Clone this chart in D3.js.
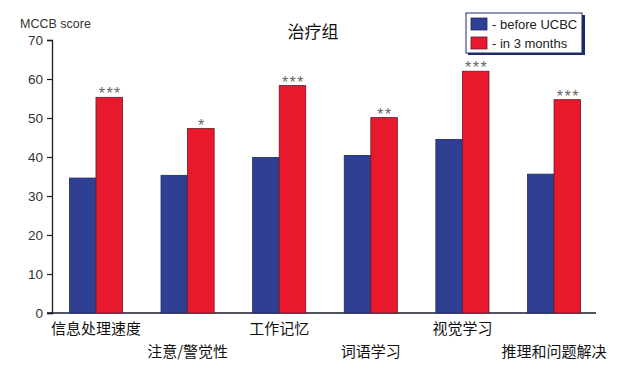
<!DOCTYPE html>
<html>
<head>
<meta charset="utf-8">
<script src="https://cdn.jsdelivr.net/npm/d3@7"></script>
<style>
  body { margin: 0; background: #fff; }
  svg { display: block; font-family: "Liberation Sans", Arial, sans-serif; }
</style>
</head>
<body>
<svg width="619" height="373"></svg>
<script>
var svg = d3.select("svg"),
    width = +svg.attr("width"),
    height = +svg.attr("height");

var categories = ["信息处理速度", "注意/警觉性", "工作记忆", "词语学习", "视觉学习", "推理和问题解决"];
var before = [34.6, 35.3, 39.9, 40.4, 44.5, 35.6];
var after3m = [55.3, 47.3, 58.3, 50.1, 62.0, 54.7];
var stars = ["***", "*", "***", "**", "***", "***"];
var seriesNames = ["- before UCBC", "- in 3 months"];
var yTicks = [0, 10, 20, 30, 40, 50, 60, 70];

var colors = ["#2f3f92", "#e8192c"];
var strokes = ["#1d2a6a", "#6a1a2c"];

var x = d3.scaleBand()
    .domain(categories)
    .range([52, 598])
    .paddingInner(0.42)
    .paddingOuter(0.19);

var xs = d3.scaleBand()
    .domain([0, 1])
    .range([0, x.bandwidth()]);

var y = d3.scaleLinear()
    .domain([0, 70])
    .range([313, 40]);

// axes
var yAxis = svg.append("g")
    .attr("transform", "translate(52,0)")
    .call(d3.axisLeft(y).tickValues(yTicks).tickSize(5).tickPadding(4));
yAxis.select(".domain").attr("stroke", "#1a1a2a").attr("stroke-width", 1.3);
yAxis.selectAll(".tick line").attr("stroke", "#1a1a2a").attr("stroke-width", 1.2);
yAxis.selectAll(".tick text").attr("fill", "#333").style("font-size", "13.5px")
    .style("font-family", "'Liberation Sans', Arial, sans-serif");

svg.append("line")
    .attr("x1", 47).attr("x2", 596)
    .attr("y1", y(0)).attr("y2", y(0))
    .attr("stroke", "#1a1a2a").attr("stroke-width", 1.3);

// bars
var groups = svg.append("g").selectAll("g")
    .data(categories)
    .enter().append("g")
    .attr("transform", d => "translate(" + x(d) + ",0)");

groups.each(function(c, i) {
    var g = d3.select(this);
    [before[i], after3m[i]].forEach((v, k) => {
        g.append("rect")
            .attr("x", xs(k))
            .attr("y", y(v))
            .attr("width", xs.bandwidth())
            .attr("height", y(0) - y(v))
            .attr("fill", colors[k])
            .attr("stroke", strokes[k])
            .attr("stroke-width", 0.8);
    });
    g.append("text")
        .attr("x", xs(1) + xs.bandwidth() / 2 + 1)
        .attr("y", y(after3m[i]) + 2)
        .attr("text-anchor", "middle")
        .attr("fill", "#666")
        .style("font-size", "16px")
        .style("letter-spacing", "1.5px")
        .text(stars[i]);
});

// category labels (staggered)
svg.append("g").selectAll("text")
    .data(categories)
    .enter().append("text")
    .attr("x", d => x(d) + x.bandwidth() / 2)
    .attr("y", (d, i) => i % 2 == 0 ? 334 : 357)
    .attr("text-anchor", "middle")
    .attr("fill", "#111")
    .style("font-family", "'Noto Sans CJK SC', sans-serif")
    .style("font-size", "15px")
    .text(d => d);

// title & y label
svg.append("text")
    .attr("x", 313).attr("y", 38)
    .attr("text-anchor", "middle")
    .attr("fill", "#111")
    .style("font-family", "'Noto Sans CJK SC', sans-serif")
    .style("font-size", "17px")
    .text("治疗组");

svg.append("text")
    .attr("x", 20).attr("y", 28)
    .attr("fill", "#333")
    .style("font-size", "12.5px")
    .text("MCCB score");

// legend
var legend = svg.append("g").attr("transform", "translate(466,13)");
legend.append("rect")
    .attr("x", 2).attr("y", 2).attr("width", 117).attr("height", 40)
    .attr("fill", "#1d2a6a");
legend.append("rect")
    .attr("x", 0).attr("y", 0).attr("width", 116).attr("height", 40)
    .attr("fill", "#fff").attr("stroke", "#1d2a6a").attr("stroke-width", 1);
seriesNames.forEach((s, k) => {
    legend.append("rect")
        .attr("x", 5).attr("y", 5 + k * 19).attr("width", 16).attr("height", 12)
        .attr("fill", colors[k]).attr("stroke", strokes[k]).attr("stroke-width", 0.8);
    legend.append("text")
        .attr("x", 26).attr("y", 15.5 + k * 19)
        .attr("fill", "#222")
        .style("font-size", "13px")
        .text(s);
});
</script>
</body>
</html>
